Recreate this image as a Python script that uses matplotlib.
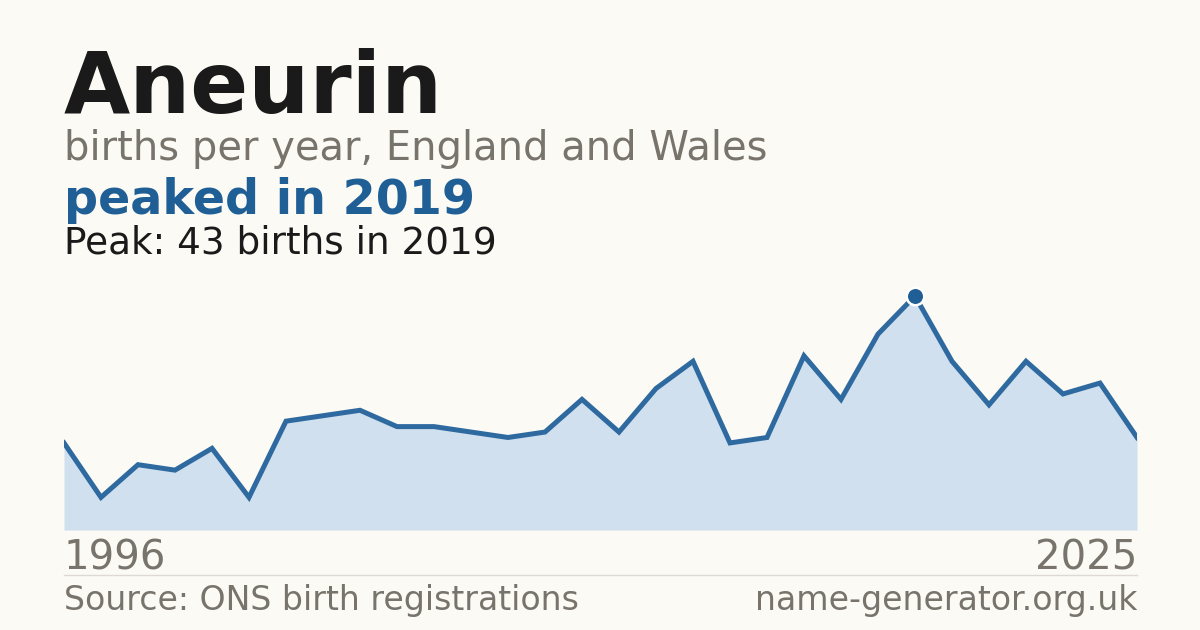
## name trend card: births per year for one name
import matplotlib
matplotlib.use('Agg')
from matplotlib import pyplot as plt

# --- data ---
name = 'Aneurin'
years = list(range(1996, 2026))
births = [16, 6, 12, 11, 15, 6, 20, 21, 22, 19,
          19, 18, 17, 18, 24, 18, 26, 31, 16, 17,
          32, 24, 36, 43, 31, 23, 31, 25, 27, 17]
peak_i = births.index(max(births))
peak_year, peak_val = years[peak_i], births[peak_i]

# --- colours ---
bg = '#fbfaf5'
ink = '#1a1a1a'
grey = '#78746c'
blue = '#1f5f96'
line_clr = '#2e6a9f'
fill_clr = '#d0e0ef'
fam = 'DejaVu Sans'

W, H = 1200, 630
fig = plt.figure(figsize=(W/100, H/100), dpi=100, facecolor=bg)

def px(x, y):
    return x / W, 1 - y / H

# --- chart area (pixels: left 64, right 1137, bottom 530, top 280) ---
left, right, bottom, top = 64, 1137, 530, 280
ax = fig.add_axes([left/W, 1 - bottom/H, (right-left)/W, (bottom-top)/H])
ax.set_facecolor(bg)
ax.fill_between(years, births, 0, color=fill_clr, linewidth=0)
ax.plot(years, births, color=line_clr, linewidth=3.6, solid_joinstyle='miter')
ax.plot([peak_year], [peak_val], marker='o', markersize=12.6,
        markerfacecolor=blue, markeredgecolor='white', markeredgewidth=1.8,
        linestyle='none', zorder=5)
ax.set_xlim(years[0], years[-1])
ax.set_ylim(0, peak_val * (bottom - top) / (bottom - 296))
ax.axis('off')

# --- texts ---
fig.text(*px(64, 113), name, fontsize=61.7, fontweight='bold', color=ink,
         va='baseline', family=fam)
fig.text(*px(64, 160), 'births per year, England and Wales', fontsize=28.8,
         color=grey, va='baseline', family=fam)
fig.text(*px(64, 214), f'peaked in {peak_year}', fontsize=34.3, fontweight='bold',
         color=blue, va='baseline', family=fam)
fig.text(*px(64, 254), f'Peak: {peak_val} births in {peak_year}', fontsize=26.9,
         color=ink, va='baseline', family=fam)

fig.text(*px(64, 570), str(years[0]), fontsize=29, color=grey, va='baseline',
         family=fam)
fig.text(*px(1137, 570), str(years[-1]), fontsize=29, color=grey, va='baseline',
         ha='right', family=fam)
fig.add_artist(plt.Line2D([64/W, 1137/W], [1 - 574.5/H, 1 - 574.5/H],
                          color='#dedad3', linewidth=1))
fig.text(*px(64, 610), 'Source: ONS birth registrations', fontsize=23.9, color=grey,
         va='baseline', family=fam)
fig.text(*px(1137, 610), 'name-generator.org.uk', fontsize=23.9, color=grey,
         va='baseline', ha='right', family=fam)

fig.savefig('out.png', dpi=100, facecolor=bg)
